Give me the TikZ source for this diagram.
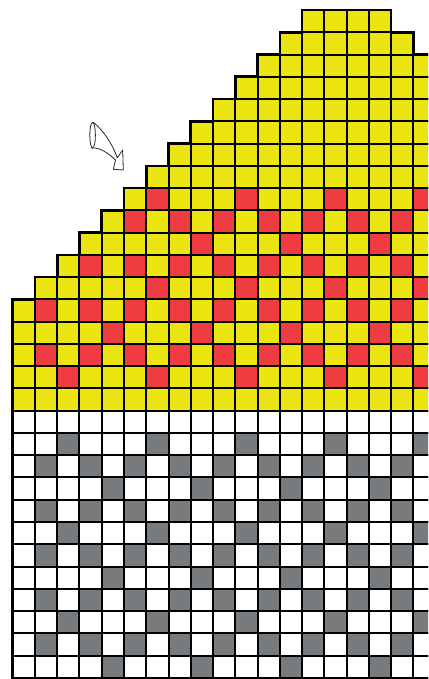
\documentclass[tikz,border=0pt]{standalone}
\definecolor{cy}{RGB}{235,230,18}
\definecolor{cr}{RGB}{239,60,64}
\definecolor{cg}{RGB}{120,123,126}
\tikzset{
  gridline/.style={draw=black,line width=2pt},
  outline/.style={draw=black,line width=2.6pt,line join=miter},
  arrowline/.style={draw=black!85,line width=0.8pt,line join=round}
}
\begin{document}
\begin{tikzpicture}[x=1pt,y=-1pt]
\useasboundingbox (0,0) rectangle (428,679);
\clip (0,0) rectangle (428,679);
\def\s{22.26}
\def\xo{12.7}
\def\yo{10}
% base fills
\foreach \r/\a/\b in {0/13/16,1/12/17,2/11/19,3/10/19,4/9/19,5/8/19,6/7/19,7/6/19,8/5/19,9/4/19,10/3/19,11/2/19,12/1/19,13/0/19,14/0/19,15/0/19,16/0/19,17/0/19}
  \fill[cy] ({\xo+\a*\s},{\yo+\r*\s}) rectangle ({\xo+(\b+1)*\s},{\yo+(\r+1)*\s});
% red cells
\foreach \r/\cl in {8/{6,10,14,18},9/{5,7,...,19},10/{8,12,16},11/{3,5,...,19},12/{6,10,14,18},13/{1,3,...,19},14/{4,8,12,16},15/{1,3,...,19},16/{2,6,10,14,18}}
  {\foreach \c in \cl
    \fill[cr] ({\xo+\c*\s},{\yo+\r*\s}) rectangle ++(\s,\s);}
% gray cells
\foreach \r/\cl in {19/{2,6,10,14,18},20/{1,3,...,19},21/{4,8,12,16},22/{1,3,...,19},23/{2,6,10,14,18},24/{1,3,...,19},25/{4,8,12,16},26/{1,3,...,19},27/{2,6,10,14,18},28/{1,3,...,19},29/{4,8,12,16}}
  {\foreach \c in \cl
    \fill[cg] ({\xo+\c*\s},{\yo+\r*\s}) rectangle ++(\s,\s);}
% grid lines
\foreach \r/\a/\b in {0/13/16,1/12/17,2/11/19,3/10/19,4/9/19,5/8/19,6/7/19,7/6/19,8/5/19,9/4/19,10/3/19,11/2/19,12/1/19,13/0/19,14/0/19,15/0/19,16/0/19,17/0/19,18/0/19,19/0/19,20/0/19,21/0/19,22/0/19,23/0/19,24/0/19,25/0/19,26/0/19,27/0/19,28/0/19,29/0/19}
  {\foreach \c in {\a,...,\b}
    \draw[gridline] ({\xo+\c*\s},{\yo+\r*\s}) rectangle ++(\s,\s);}
% outer outline
\draw[outline] ({\xo+20*\s},{\yo+30*\s}) -- ({\xo},{\yo+30*\s}) -- ({\xo},{\yo+13*\s})
  \foreach \k in {1,...,12} { -- ({\xo+\k*\s},{\yo+(14-\k)*\s}) -- ({\xo+\k*\s},{\yo+(13-\k)*\s}) }
  -- ({\xo+13*\s},{\yo+1*\s}) -- ({\xo+13*\s},{\yo}) -- ({\xo+17*\s},{\yo}) -- ({\xo+17*\s},{\yo+\s})
  -- ({\xo+18*\s},{\yo+\s}) -- ({\xo+18*\s},{\yo+2*\s}) -- ({\xo+20*\s},{\yo+2*\s});
% hand-drawn arrow
\draw[arrowline] (93.3,122.3) .. controls (103,130) and (112,143) .. (117.3,157.7)
  -- (122.7,150) -- (123.3,170) -- (113.3,169.3) -- (115.5,160)
  .. controls (108,153) and (100,147) .. (91,148);
\draw[arrowline] (92.6,135.2) ellipse [x radius=2.8, y radius=12.8];
\end{tikzpicture}
\end{document}
